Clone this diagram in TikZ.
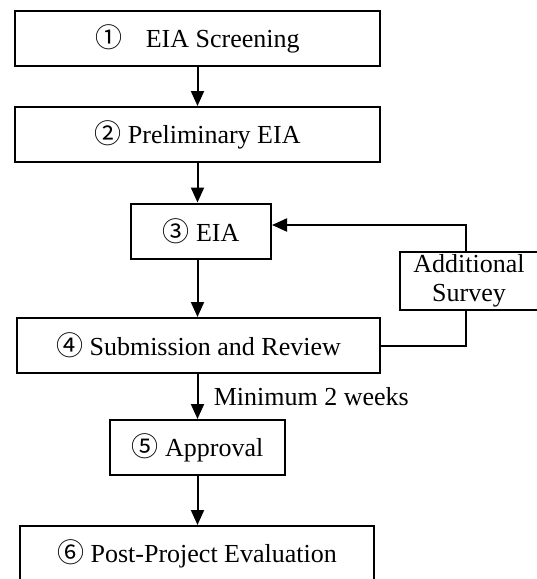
\documentclass[tikz,border=0pt]{standalone}
\usepackage{fontspec}
\setmainfont{Liberation Serif}
\newfontfamily\cnumfont{Noto Sans CJK JP}
\usetikzlibrary{arrows.meta,positioning}
\newcommand{\cnum}[1]{{\cnumfont\fontsize{27}{27}\selectfont #1}}

\begin{document}
\begin{tikzpicture}[
  x=1pt, y=-1pt,
  stage/.style={draw, rectangle, line width=2pt, minimum height=55pt, inner sep=2pt,
    align=center, font=\fontsize{26}{29}\selectfont},
  >={Triangle[width=13pt,length=15pt]}, line width=2pt
]
  \clip (0,0) rectangle (537,579);
  \node[stage, minimum width=365pt] (screen)  at (197.5,38.5)  {\cnum{①}\hspace{0.9em}EIA Screening};
  \node[stage, minimum width=365pt] (prelim)  at (197.5,134.5) {\cnum{②}\hspace{0.25em}Preliminary EIA};
  \node[stage, minimum width=140pt] (eia)     at (201,231)     {\cnum{③}\hspace{0.25em}EIA};
  \node[stage, minimum width=138pt, minimum height=58pt] (survey) at (469,281) {Additional\\Survey};
  \node[stage, minimum width=363pt] (review)  at (198.5,345.5) {\cnum{④}\hspace{0.25em}Submission and Review};
  \node[stage, minimum width=175pt] (approve) at (197.5,447.5) {\cnum{⑤}\hspace{0.25em}Approval};
  \node[stage, minimum width=354pt] (post)    at (197,553.5)   {\cnum{⑥}\hspace{0.25em}Post-Project Evaluation};

  \draw[->] (screen) -- (prelim);
  \draw[->] (prelim) -- (eia.north -| prelim.south);
  \draw[->] (eia.south -| prelim.south) -- (review.north -| prelim.south);
  \draw[->] (review.south -| prelim.south) --
      node[midway, right, xshift=12pt, font=\fontsize{26}{29}\selectfont]{Minimum 2 weeks} (approve.north -| prelim.south);
  \draw[->] (approve) -- (post.north -| approve.south);
  \draw (review.east) -| ([xshift=-3pt]survey.south);
  \draw[->] ([xshift=-3pt]survey.north) |- ([yshift=6pt]eia.east);
\end{tikzpicture}
\end{document}
